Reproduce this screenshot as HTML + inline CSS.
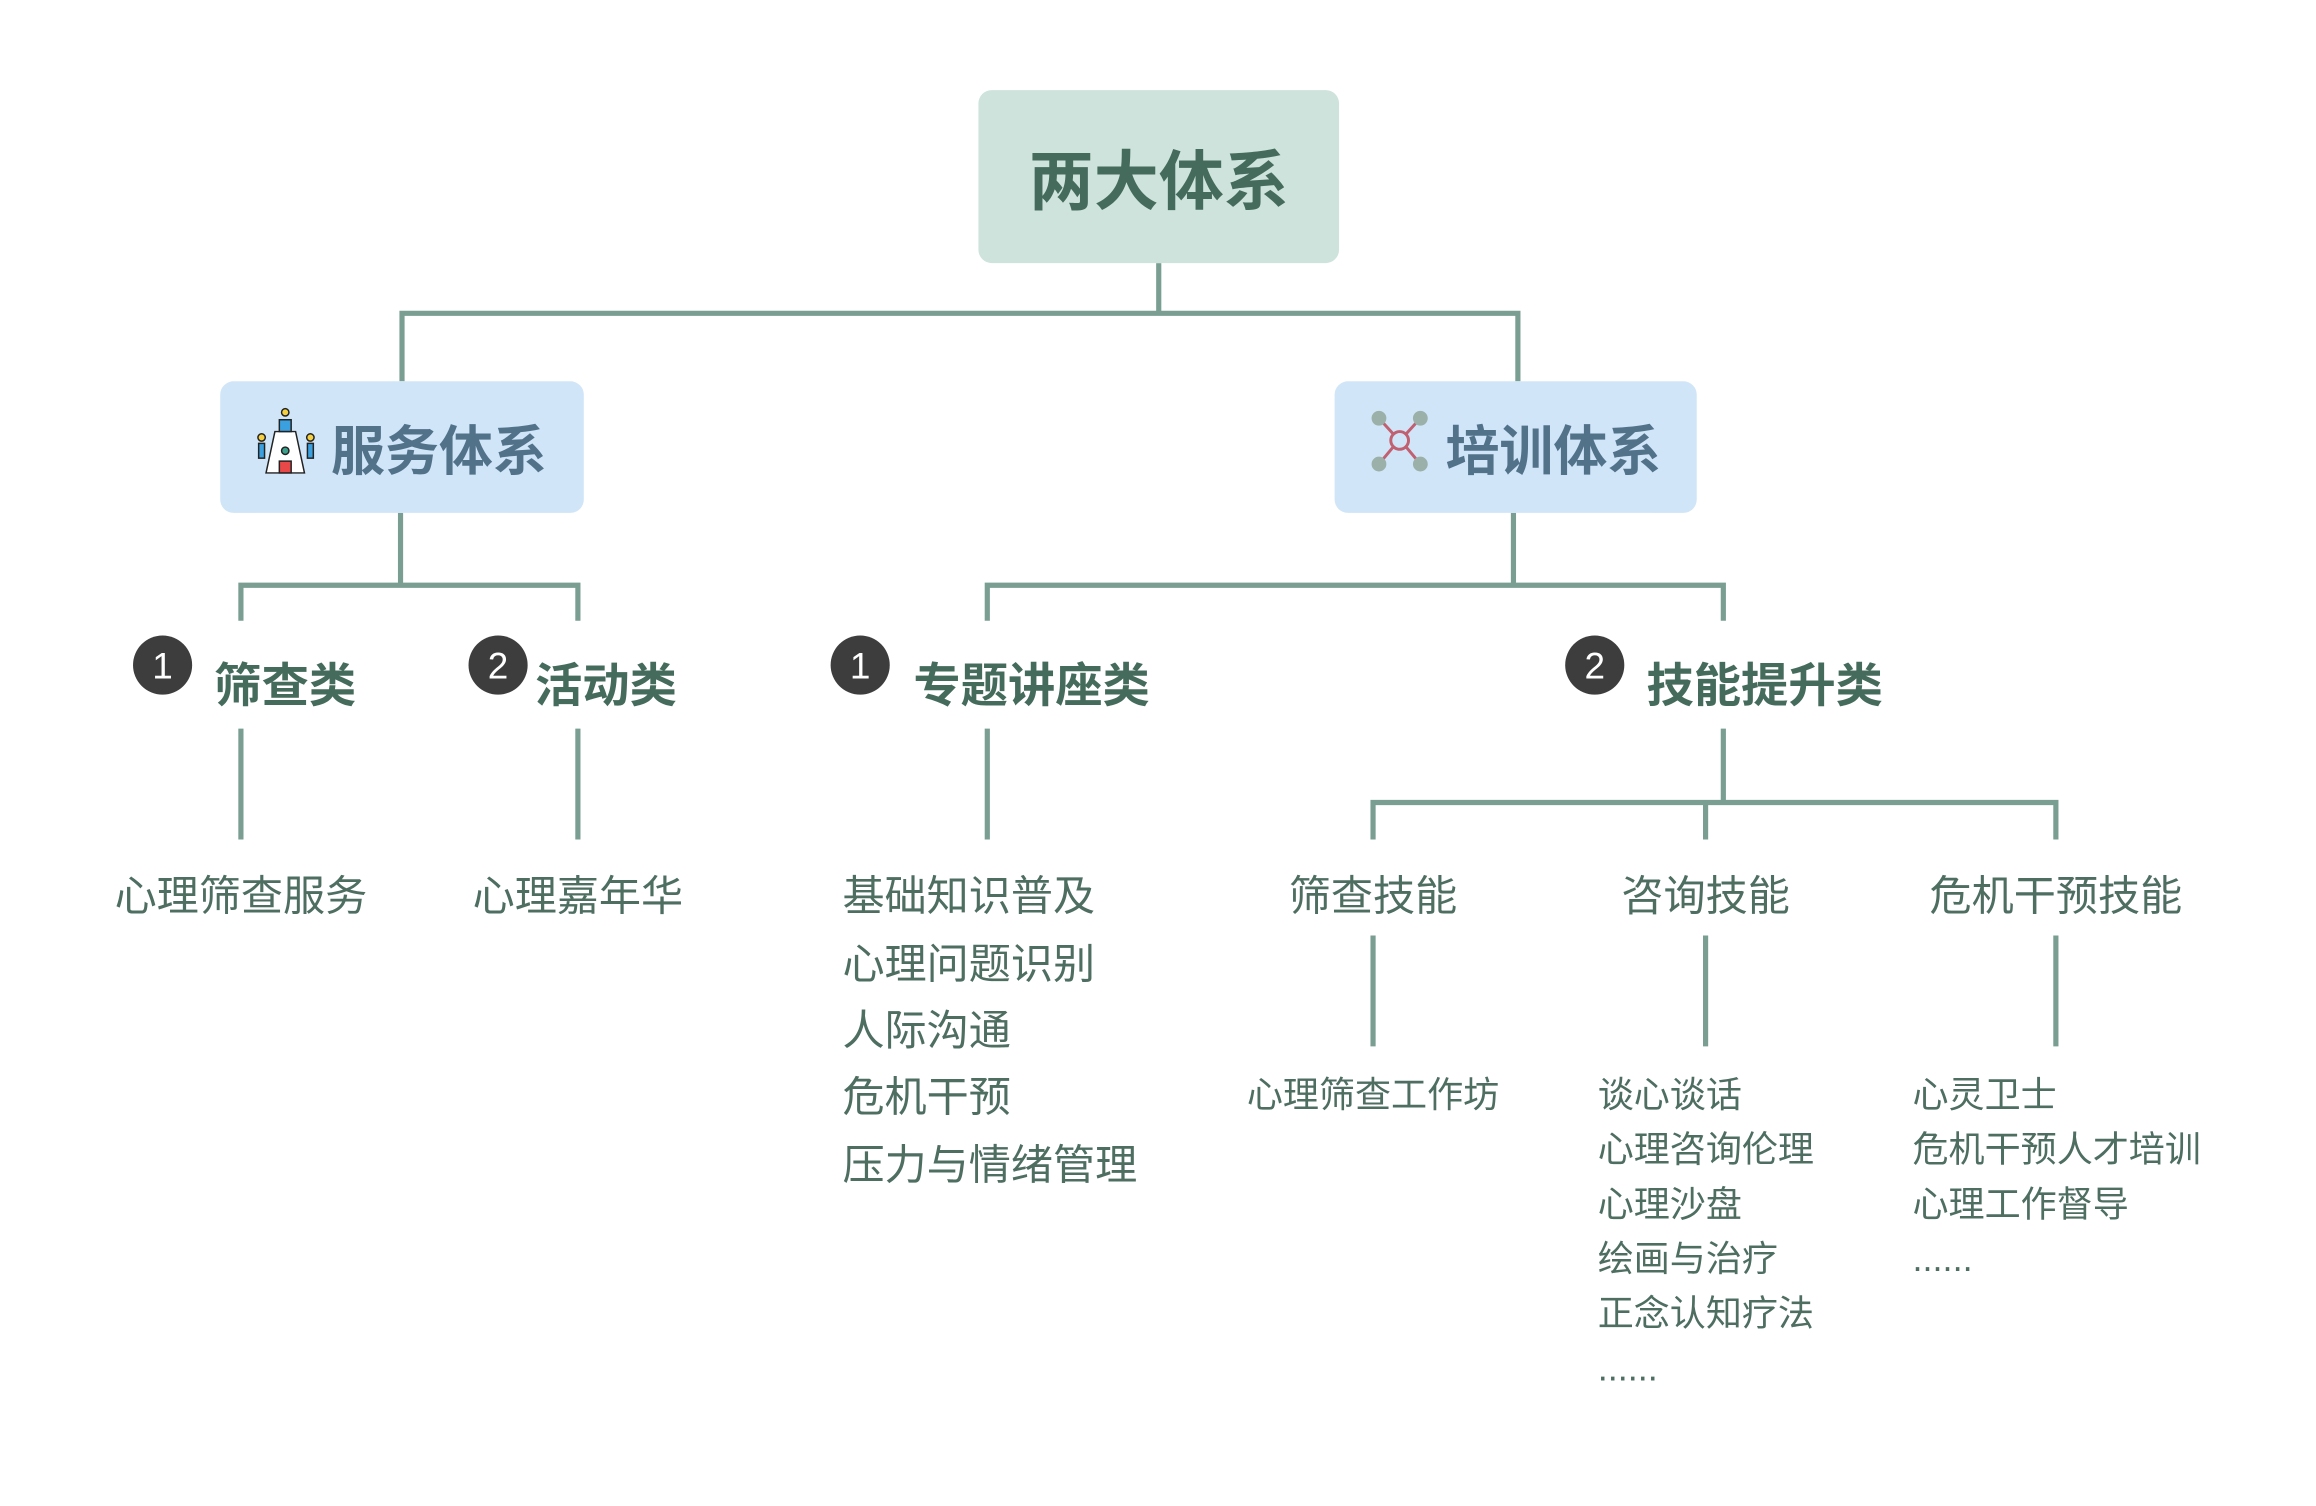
<!DOCTYPE html>
<html><head><meta charset="utf-8"><style>html,body{margin:0;padding:0;background:#fff}svg{display:block}</style></head>
<body>
<svg width="2316" height="1506" viewBox="0 0 1567 1019" preserveAspectRatio="none" xmlns="http://www.w3.org/2000/svg" font-family="'Liberation Sans','Noto Sans CJK SC',sans-serif">
<rect width="1567" height="1019" fill="#fff"/>
<g stroke="#7a9e92" stroke-width="3.5" fill="none">
<path d="M784 178V212M272 258V212H1027V258"/>
<path d="M271 347V396M163 420V396H391V420"/>
<path d="M1024 347V396M668 420V396H1166V420"/>
<path d="M163 493V568M391 493V568M668 493V568"/>
<path d="M1166 493V543M929 568V543H1391V568M1154 543V568"/>
<path d="M929 633V708M1154 633V708M1391 633V708"/>
</g>
<rect x="662" y="61" width="244" height="117" rx="9" fill="#cde3dc"/>
<text x="784" y="138" text-anchor="middle" font-size="44" font-weight="bold" fill="#456b5c">两大体系</text>
<rect x="149" y="258" width="246" height="89" rx="9" fill="#d0e5f8"/>
<rect x="903" y="258" width="245" height="89" rx="9" fill="#d0e5f8"/>
<text x="224" y="318" font-size="36.5" font-weight="bold" fill="#52728a">服务体系</text>
<text x="978" y="318" font-size="36.5" font-weight="bold" fill="#52728a">培训体系</text>
<g stroke="#222" stroke-width="1">
<path d="M186 292h14l6 28h-26z" fill="#fff"/>
<rect x="189" y="284" width="8" height="8" fill="#3aa0e0"/>
<circle cx="193" cy="279" r="2.5" fill="#f5d040"/>
<circle cx="177" cy="296" r="2.5" fill="#f5d040"/><rect x="175" y="300" width="4" height="10" fill="#3aa0e0"/>
<circle cx="210" cy="296" r="2.5" fill="#f5d040"/><rect x="208" y="300" width="4" height="10" fill="#3aa0e0"/>
<circle cx="193" cy="305" r="2.5" fill="#3aa08a"/>
<rect x="189" y="312" width="8" height="8" fill="#e84848"/>
</g>
<g stroke="#c06070" stroke-width="2" fill="none">
<circle cx="947" cy="298" r="6"/>
<path d="M933 283L943 294M961 283L951 294M933 314L943 302M961 314L951 302"/>
</g>
<g fill="#9ab0a8"><circle cx="933" cy="283" r="5"/><circle cx="961" cy="283" r="5"/><circle cx="933" cy="314" r="5"/><circle cx="961" cy="314" r="5"/></g>
<g fill="#3d3d3d"><circle cx="110" cy="450" r="20"/><circle cx="337" cy="450" r="20"/><circle cx="582" cy="450" r="20"/><circle cx="1079" cy="450" r="20"/></g>
<g fill="#fff" font-size="25" text-anchor="middle"><text x="110" y="459">1</text><text x="337" y="459">2</text><text x="582" y="459">1</text><text x="1079" y="459">2</text></g>
<g font-size="32" font-weight="bold" fill="#456b5c">
<text x="145" y="475">筛查类</text><text x="362" y="475">活动类</text><text x="618" y="475">专题讲座类</text><text x="1114" y="475">技能提升类</text>
</g>
<g font-size="28.5" fill="#4e6e62">
<text x="163" y="616" text-anchor="middle">心理筛查服务</text>
<text x="391" y="616" text-anchor="middle">心理嘉年华</text>
<text x="570" y="616">基础知识普及</text>
<text x="570" y="662">心理问题识别</text>
<text x="570" y="707">人际沟通</text>
<text x="570" y="752">危机干预</text>
<text x="570" y="798">压力与情绪管理</text>
<text x="929" y="616" text-anchor="middle">筛查技能</text>
<text x="1154" y="616" text-anchor="middle">咨询技能</text>
<text x="1391" y="616" text-anchor="middle">危机干预技能</text>
</g>
<g font-size="24.4" fill="#4e6e62">
<text x="929" y="749" text-anchor="middle">心理筛查工作坊</text>
<text x="1081" y="749">谈心谈话</text>
<text x="1081" y="786">心理咨询伦理</text>
<text x="1081" y="823">心理沙盘</text>
<text x="1081" y="860">绘画与治疗</text>
<text x="1081" y="897">正念认知疗法</text>
<text x="1081" y="934">......</text>
<text x="1294" y="749">心灵卫士</text>
<text x="1294" y="786">危机干预人才培训</text>
<text x="1294" y="823">心理工作督导</text>
<text x="1294" y="860">......</text>
</g>
</svg>
</body></html>
